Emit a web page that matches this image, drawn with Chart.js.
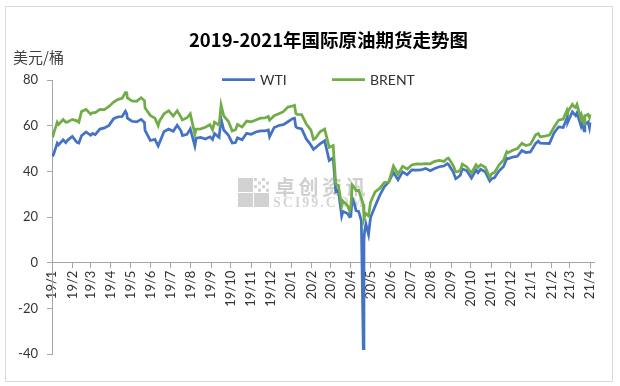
<!DOCTYPE html>
<html>
<head>
<meta charset="utf-8">
<title>2019-2021年国际原油期货走势图</title>
<script src="https://cdn.jsdelivr.net/npm/chart.js@4/dist/chart.umd.min.js"></script>
<style>
  html, body { margin: 0; padding: 0; background: #fff; }
  canvas { display: block; }
</style>
</head>
<body>
<canvas id="oilChart" width="620" height="386"></canvas>
<script>
// trading dates (sampled) and closing prices, USD/bbl
const dates = [
  '2019-01-02','2019-01-04','2019-01-09','2019-01-11','2019-01-18','2019-01-22','2019-01-25','2019-02-01',
  '2019-02-08','2019-02-11','2019-02-15','2019-02-22','2019-03-01','2019-03-04','2019-03-08','2019-03-15',
  '2019-03-22','2019-03-29','2019-04-05','2019-04-12','2019-04-18','2019-04-23','2019-04-25','2019-04-26',
  '2019-05-03','2019-05-10','2019-05-17','2019-05-22','2019-05-23','2019-05-31','2019-06-07','2019-06-12',
  '2019-06-14','2019-06-21','2019-06-28','2019-07-05','2019-07-11','2019-07-17','2019-07-19','2019-07-26',
  '2019-07-31','2019-08-07','2019-08-09','2019-08-16','2019-08-23','2019-08-30','2019-09-03','2019-09-06',
  '2019-09-13','2019-09-16','2019-09-20','2019-09-27','2019-10-03','2019-10-08','2019-10-11','2019-10-18',
  '2019-10-25','2019-11-01','2019-11-08','2019-11-15','2019-11-22','2019-11-27','2019-11-29','2019-12-06',
  '2019-12-13','2019-12-20','2019-12-27','2020-01-03','2020-01-06','2020-01-08','2020-01-10','2020-01-17',
  '2020-01-24','2020-01-31','2020-02-04','2020-02-07','2020-02-14','2020-02-21','2020-02-28','2020-03-05',
  '2020-03-09','2020-03-13','2020-03-18','2020-03-20','2020-03-27','2020-03-30','2020-04-01','2020-04-03',
  '2020-04-06','2020-04-09','2020-04-13','2020-04-17','2020-04-20','2020-04-21','2020-04-22','2020-04-24',
  '2020-04-28','2020-05-01','2020-05-08','2020-05-15','2020-05-22','2020-05-29','2020-06-05','2020-06-08',
  '2020-06-12','2020-06-19','2020-06-26','2020-07-03','2020-07-10','2020-07-17','2020-07-24','2020-07-31',
  '2020-08-07','2020-08-14','2020-08-21','2020-08-26','2020-08-28','2020-09-04','2020-09-08','2020-09-11',
  '2020-09-15','2020-09-18','2020-09-25','2020-10-02','2020-10-09','2020-10-12','2020-10-16','2020-10-23',
  '2020-10-30','2020-11-02','2020-11-06','2020-11-13','2020-11-20','2020-11-25','2020-11-27','2020-12-04',
  '2020-12-11','2020-12-18','2020-12-24','2020-12-31','2021-01-08','2021-01-12','2021-01-15','2021-01-22',
  '2021-01-29','2021-02-05','2021-02-12','2021-02-19','2021-02-25','2021-02-26','2021-03-05','2021-03-08',
  '2021-03-10','2021-03-12','2021-03-18','2021-03-19','2021-03-23','2021-03-24','2021-03-26','2021-03-29',
  '2021-03-31','2021-04-01'
];
const wti = [
  46.54,47.96,52.36,51.59,53.80,52.57,53.69,55.26,
  52.72,52.41,55.59,57.26,55.80,56.59,56.07,58.52,
  59.04,60.14,63.08,63.89,64.00,66.30,65.21,63.30,
  61.94,61.66,62.76,61.42,57.91,53.50,53.99,51.14,
  52.51,57.43,58.47,57.51,60.20,57.62,55.63,56.20,
  58.58,51.09,54.50,54.87,54.17,55.10,53.94,56.52,
  54.85,62.90,58.09,55.91,52.45,52.63,54.70,53.78,
  56.66,56.20,57.24,57.72,57.77,58.11,55.17,59.20,
  60.07,60.44,61.72,63.05,63.27,59.61,59.04,58.54,
  54.19,51.56,49.61,50.32,52.05,53.38,44.76,45.90,
  31.13,31.73,20.37,22.43,21.51,20.09,20.31,28.34,
  26.08,22.76,22.41,18.27,-37.63,10.01,13.78,16.94,
  12.34,19.78,24.74,29.43,33.25,35.49,39.55,38.19,
  36.26,39.75,38.49,40.65,40.55,40.59,41.29,40.27,
  41.22,42.01,42.34,43.39,42.97,39.77,36.76,37.33,
  38.28,41.11,40.25,37.05,40.60,39.43,40.88,39.85,
  35.79,36.81,37.14,40.13,42.15,45.71,45.53,46.26,
  46.57,49.10,48.23,48.52,52.24,53.21,52.36,52.27,
  52.20,56.85,59.47,59.24,63.53,61.50,66.09,65.05,
  64.44,65.61,60.00,61.42,57.76,61.18,60.97,61.56,
  59.16,61.45
];
const brent = [
  54.91,57.06,61.44,60.48,62.70,61.50,61.64,62.75,
  62.10,61.51,66.25,67.12,65.07,65.67,65.74,67.16,
  67.03,68.39,70.34,71.55,71.97,74.51,74.35,72.15,
  70.85,70.62,72.21,70.99,67.76,64.49,63.29,59.97,
  62.01,65.20,66.55,64.23,66.52,63.66,62.47,63.46,
  65.17,56.23,58.53,58.64,59.34,60.43,58.26,61.54,
  60.22,69.02,64.28,61.91,57.71,58.24,60.51,59.42,
  62.02,61.69,62.51,63.30,63.39,64.06,62.43,64.39,
  65.22,66.14,68.16,68.60,68.91,65.44,64.98,64.85,
  60.69,58.16,53.96,54.47,57.32,58.50,50.52,51.29,
  34.36,33.85,24.88,26.98,24.93,22.76,24.74,34.11,
  33.05,31.48,31.74,28.08,25.57,19.33,20.37,21.44,
  20.46,26.44,30.97,32.50,35.13,35.33,42.30,40.80,
  38.73,42.19,41.02,42.80,43.24,43.14,43.34,43.30,
  44.40,44.80,44.35,45.64,45.81,42.66,39.78,39.83,
  40.53,43.15,41.92,39.27,42.85,41.72,42.93,41.77,
  37.46,38.97,39.45,42.78,44.96,48.61,48.18,49.25,
  49.97,52.26,51.29,51.80,55.99,56.58,55.10,55.41,
  55.88,59.34,62.43,62.91,66.88,66.13,69.36,68.24,
  67.90,69.22,63.28,64.53,60.79,64.41,64.57,64.98,
  63.54,64.86
];
const monthLabels = [
  '19/1','19/2','19/3','19/4','19/5','19/6','19/7','19/8','19/9','19/10','19/11','19/12',
  '20/1','20/2','20/3','20/4','20/5','20/6','20/7','20/8','20/9','20/10','20/11','20/12',
  '21/1','21/2','21/3','21/4'
];
const yTicks = [-40, -20, 0, 20, 40, 60, 80];

// days since 2019-01-01
const base = Date.UTC(2019, 0, 1);
function dayIndex(s) {
  const p = s.split('-').map(Number);
  return (Date.UTC(p[0], p[1] - 1, p[2]) - base) / 86400000;
}
function monthIndex(lbl) {
  const p = lbl.split('/').map(Number);
  return (Date.UTC(2000 + p[0], p[1] - 1, 1) - base) / 86400000;
}
const monthPos = monthLabels.map(monthIndex);
const labelAt = {};
monthLabels.forEach((l, i) => { labelAt[monthPos[i]] = l; });

const wtiPts = dates.map((d, i) => ({ x: dayIndex(d), y: wti[i] }));
const brentPts = dates.map((d, i) => ({ x: dayIndex(d), y: brent[i] }));

const axisGray = '#a6a6a6';
const textColor = '#333333';

// frame, watermark, title, unit and legend
const decor = {
  id: 'decor',
  beforeDraw(chart) {
    const c = chart.ctx;
    c.save();
    c.fillStyle = '#fff';
    c.fillRect(0, 0, chart.width, chart.height);
    c.strokeStyle = '#d9d9d9';
    c.lineWidth = 1;
    c.strokeRect(5.5, 6.5, 607, 375);
    c.restore();
  },
  beforeDatasetsDraw(chart) {
    const c = chart.ctx;
    c.save();
    c.fillStyle = '#d2d2d2';
    c.fillRect(238, 178, 15, 14);
    c.fillRect(238, 193, 15, 14);
    c.fillRect(254, 193, 15, 14);
    for (let r = 0; r < 4; r++) {
      for (let k = 0; k < 4; k++) {
        if ((r + k) % 2 === 0) c.fillRect(254 + k * 4, 178 + r * 3.6, 3, 3);
      }
    }
    c.fillStyle = '#d0d0d0';
    c.font = 'bold 20px "Noto Sans CJK SC"';
    c.textBaseline = 'middle';
    c.textAlign = 'left';
    const wm = '卓创资讯';
    for (let i = 0; i < wm.length; i++) c.fillText(wm[i], 275 + i * 23.5, 187);
    c.fillStyle = '#d6d6d6';
    c.font = 'bold 14px "Liberation Serif"';
    const sc = 'SCI99.COM';
    let x = 273;
    for (const ch of sc) { c.fillText(ch, x, 203.5); x += c.measureText(ch).width + 2; }
    c.restore();
  },
  afterDraw(chart) {
    const c = chart.ctx;
    c.save();
    c.textBaseline = 'middle';
    c.fillStyle = '#000';
    c.textAlign = 'center';
    c.font = 'bold 18.5px "Noto Sans CJK SC"';
    c.fillText('2019-2021年国际原油期货走势图', 328.5, 40);
    c.textAlign = 'left';
    c.fillStyle = '#404040';
    c.font = '15px "Noto Sans CJK SC"';
    c.fillText('美元/桶', 13, 57);
    // legend
    const items = [
      { ds: chart.data.datasets[0], x: 222 },
      { ds: chart.data.datasets[1], x: 332 }
    ];
    c.font = '14px Lato';
    items.forEach(it => {
      c.strokeStyle = it.ds.borderColor;
      c.lineWidth = 2.75;
      c.beginPath();
      c.moveTo(it.x, 79.5);
      c.lineTo(it.x + 33, 79.5);
      c.stroke();
      c.fillStyle = textColor;
      c.fillText(it.ds.label, it.x + 38, 80);
    });
    c.restore();
  }
};

new Chart(document.getElementById('oilChart'), {
  type: 'line',
  data: {
    datasets: [
      { label: 'WTI', data: wtiPts, borderColor: '#4472c4', borderWidth: 2.75, pointRadius: 0, order: 1 },
      { label: 'BRENT', data: brentPts, borderColor: '#70ad47', borderWidth: 2.75, pointRadius: 0, order: 0 }
    ]
  },
  options: {
    responsive: false,
    animation: false,
    devicePixelRatio: 1,
    layout: { padding: { top: 80, right: 26, bottom: 32, left: 0 } },
    plugins: {
      legend: { display: false },
      title: { display: false },
      tooltip: { enabled: false }
    },
    scales: {
      x: {
        type: 'linear',
        position: { y: 0 },
        min: 0,
        max: 827,
        afterBuildTicks(scale) { scale.ticks = monthPos.map(v => ({ value: v })); },
        ticks: {
          autoSkip: false,
          maxRotation: 90,
          minRotation: 90,
          padding: 3,
          color: textColor,
          font: { family: 'Lato', size: 13 },
          callback: v => labelAt[v]
        },
        grid: { drawOnChartArea: false, tickLength: 5, color: axisGray },
        border: { color: axisGray }
      },
      y: {
        min: -40,
        max: 80,
        afterBuildTicks(scale) { scale.ticks = yTicks.map(v => ({ value: v })); },
        afterFit(scale) { scale.width = 52; },
        ticks: {
          padding: 9,
          color: textColor,
          font: { family: 'Lato', size: 13 }
        },
        grid: { drawOnChartArea: false, tickLength: 5, color: axisGray },
        border: { color: axisGray }
      }
    }
  },
  plugins: [decor]
});
</script>
</body>
</html>
